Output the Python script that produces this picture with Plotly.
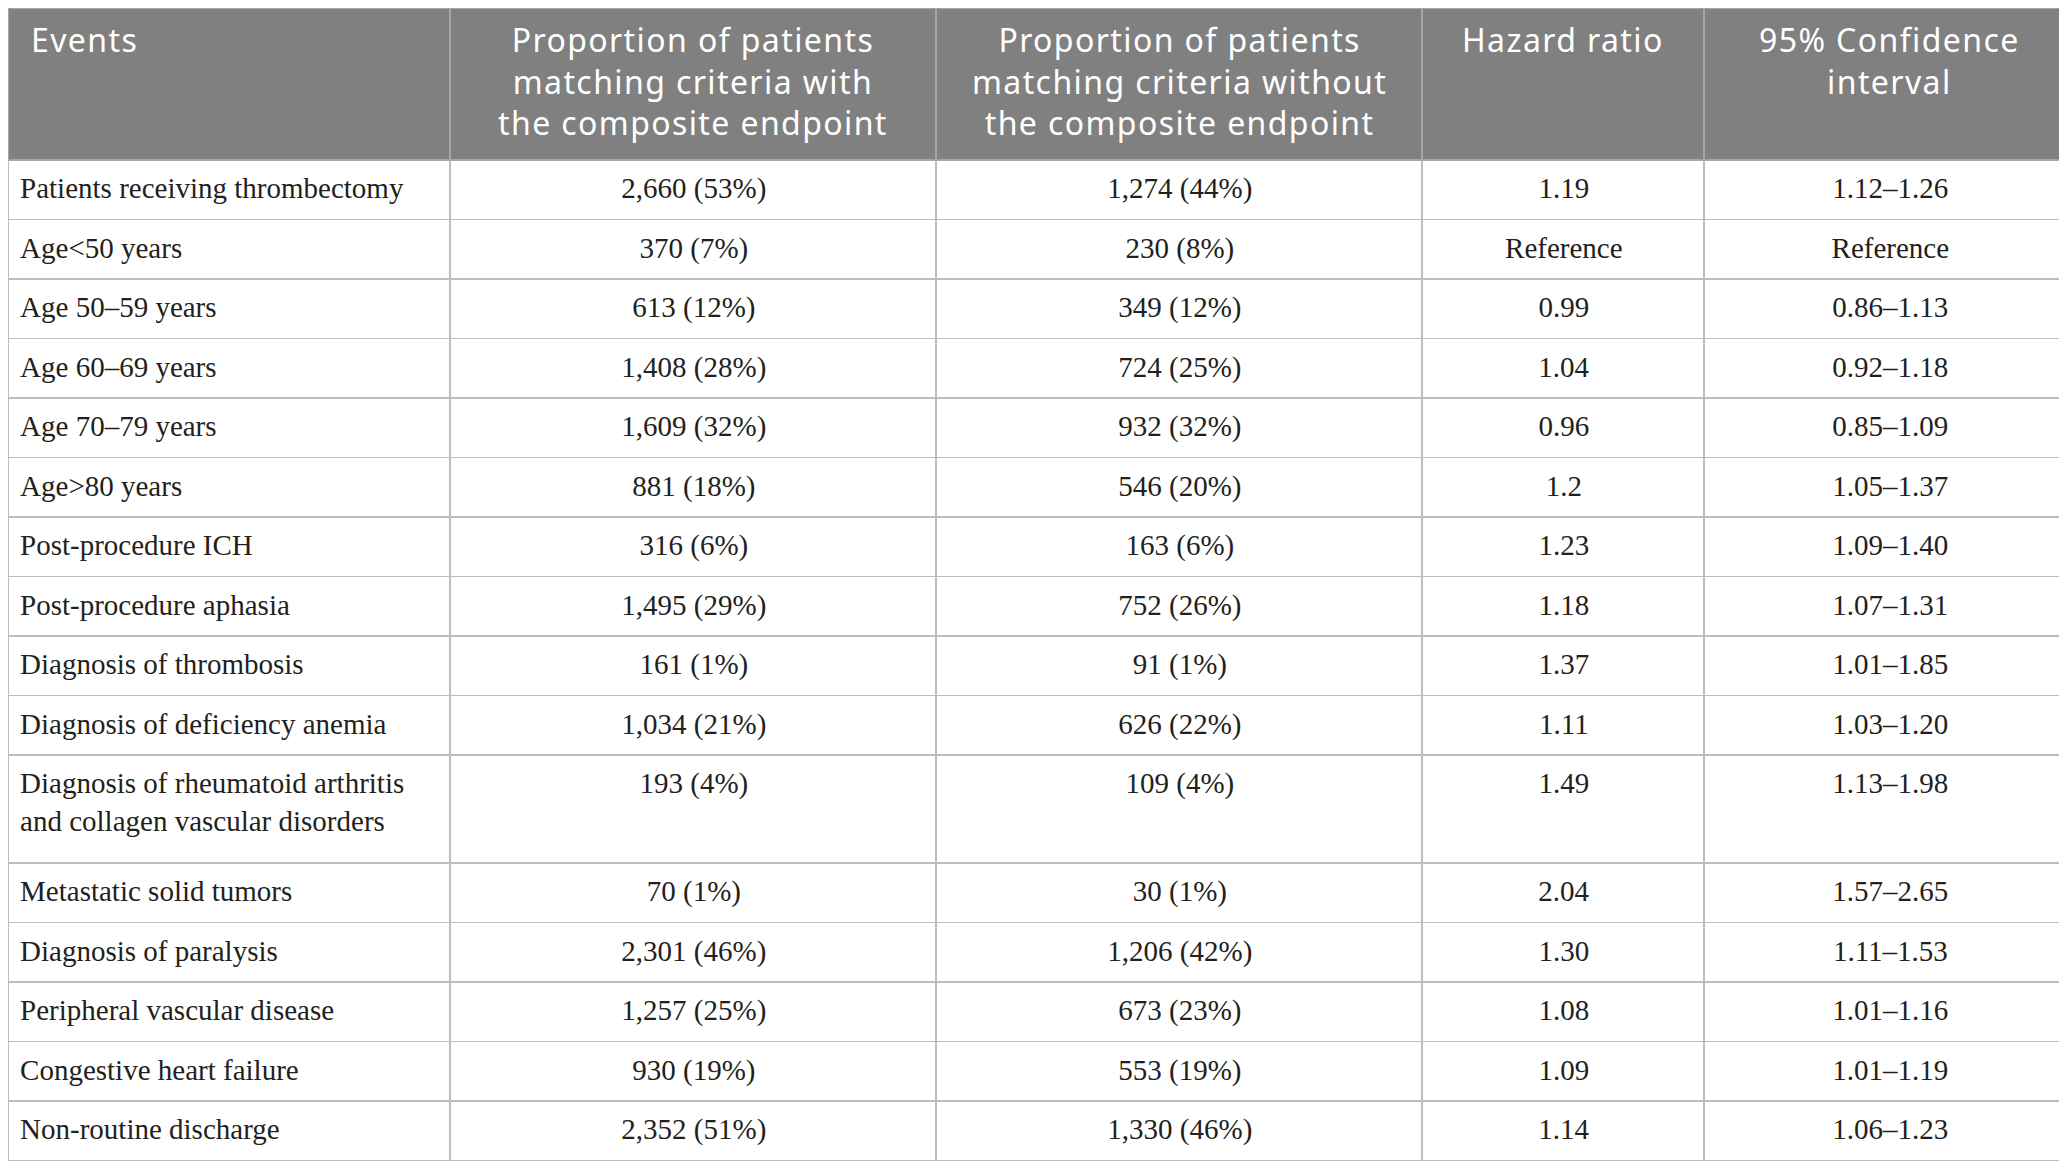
import plotly.graph_objects as go

# column headers
headers = [
    "Events",
    "Proportion of patients<br>matching criteria with<br>the composite endpoint",
    "Proportion of patients<br>matching criteria without<br>the composite endpoint",
    "Hazard ratio",
    "95% Confidence<br>interval",
]

events = [
    "Patients receiving thrombectomy",
    "Age&lt;50 years",
    "Age 50–59 years",
    "Age 60–69 years",
    "Age 70–79 years",
    "Age&gt;80 years",
    "Post-procedure ICH",
    "Post-procedure aphasia",
    "Diagnosis of thrombosis",
    "Diagnosis of deficiency anemia",
    "Diagnosis of rheumatoid arthritis<br>and collagen vascular disorders",
    "Metastatic solid tumors",
    "Diagnosis of paralysis",
    "Peripheral vascular disease",
    "Congestive heart failure",
    "Non-routine discharge",
]

with_endpoint = [
    "2,660 (53%)", "370 (7%)", "613 (12%)", "1,408 (28%)", "1,609 (32%)",
    "881 (18%)", "316 (6%)", "1,495 (29%)", "161 (1%)", "1,034 (21%)",
    "193 (4%)", "70 (1%)", "2,301 (46%)", "1,257 (25%)", "930 (19%)",
    "2,352 (51%)",
]

without_endpoint = [
    "1,274 (44%)", "230 (8%)", "349 (12%)", "724 (25%)", "932 (32%)",
    "546 (20%)", "163 (6%)", "752 (26%)", "91 (1%)", "626 (22%)",
    "109 (4%)", "30 (1%)", "1,206 (42%)", "673 (23%)", "553 (19%)",
    "1,330 (46%)",
]

hazard_ratio = [
    "1.19", "Reference", "0.99", "1.04", "0.96", "1.2", "1.23", "1.18",
    "1.37", "1.11", "1.49", "2.04", "1.30", "1.08", "1.09", "1.14",
]

conf_interval = [
    "1.12–1.26", "Reference", "0.86–1.13", "0.92–1.18", "0.85–1.09",
    "1.05–1.37", "1.09–1.40", "1.07–1.31", "1.01–1.85", "1.03–1.20",
    "1.13–1.98", "1.57–2.65", "1.11–1.53", "1.01–1.16", "1.01–1.19",
    "1.06–1.23",
]

col_widths = [442, 486, 486, 282, 371]
col_align = ["left", "center", "center", "center", "center"]

W, H = 2067, 1176

# plotly puts the top of the text box a fixed pad below the cell top;
# a raised blank at the start lowers the baseline a little (no spaces in
# the tag, so the table's word wrap leaves it alone)
LIFT_FIRST = "<sup>&#8201;</sup>"   # thin space also nudges column 1 right
LIFT = "<sup>&#8202;</sup>"
# deep blank subscript at the end of a wrapped row makes that row taller
TAIL = "<span style='font-size:68px'><sub>&nbsp;</sub></span>"


def cell(v, lift):
    if "<br>" in v:
        return lift + v.replace("<br>", "<br>" + lift) + TAIL
    return lift + v


cell_values = [[cell(v, LIFT_FIRST) for v in events]]
cell_values += [[cell(v, LIFT) for v in col]
                for col in (with_endpoint, without_endpoint, hazard_ratio, conf_interval)]

fig = go.Figure(
    go.Table(
        columnwidth=col_widths,
        header=dict(
            values=["" for _ in headers],
            fill_color="#808080",
            line=dict(color="#a6a6a6", width=1.5),
            font=dict(family="Noto Sans", size=20, color="white"),
            height=152,
        ),
        cells=dict(
            values=cell_values,
            fill_color="white",
            line=dict(color="#bdbdbd", width=1.5),
            font=dict(family="Liberation Serif", size=29, color="#231f20"),
            align=col_align,
            height=59.5,
        ),
    )
)

# header titles as centred multi-line text
total = sum(col_widths)
left = 0
for title, w, al in zip(headers, col_widths, col_align):
    if al == "left":
        x, anchor = (left + 21) / total, "left"
    else:
        x, anchor = (left + w / 2) / total, "center"
    fig.add_annotation(
        x=x, y=1 - 8 / H, xref="paper", yref="paper",
        xanchor=anchor, yanchor="top", align=al,
        text=f"<span style='letter-spacing:1.4px'>{title}</span>",
        showarrow=False,
        font=dict(family="Noto Sans", size=32, color="white"),
    )
    left += w

fig.update_layout(
    width=W,
    height=H,
    margin=dict(l=0, r=0, t=0, b=0),
    paper_bgcolor="white",
)

fig.write_html("out.html")
